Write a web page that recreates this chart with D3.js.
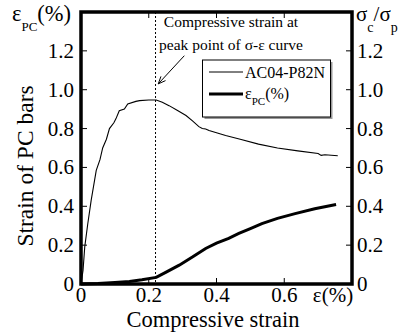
<!DOCTYPE html>
<html><head><meta charset="utf-8">
<script src="https://cdn.jsdelivr.net/npm/d3@7"></script>
<style>
body{margin:0;background:#fff;}
svg{display:block;font-family:"Liberation Serif","Times New Roman",serif;}
</style></head>
<body><svg id="c" width="407" height="332"></svg>
<script>
// ---- data ----
const xTicks = [0, 0.2, 0.4, 0.6];
const xTickLabels = ["0", "0.2", "0.4", "0.6"];
const yTicks = [0, 0.2, 0.4, 0.6, 0.8, 1.0, 1.2];
const yTickLabels = ["0", "0.2", "0.4", "0.6", "0.8", "1.0", "1.2"];
const peakStrain = 0.22;
// sigma_c / sigma_p curve (AC04-P82N)
const stressX = [0, 0.006, 0.011, 0.02, 0.03, 0.045, 0.056, 0.064, 0.075, 0.084, 0.097, 0.103, 0.113, 0.128, 0.138, 0.162, 0.173, 0.2, 0.222, 0.24, 0.26, 0.285, 0.31, 0.33, 0.348, 0.358, 0.368, 0.378, 0.40, 0.427, 0.47, 0.524, 0.58, 0.64, 0.70, 0.709, 0.72, 0.758];
const stressY = [0, 0.07, 0.19, 0.31, 0.43, 0.585, 0.64, 0.70, 0.745, 0.80, 0.83, 0.85, 0.892, 0.90, 0.927, 0.94, 0.944, 0.947, 0.947, 0.935, 0.918, 0.893, 0.867, 0.838, 0.81, 0.80, 0.798, 0.79, 0.778, 0.764, 0.745, 0.72, 0.70, 0.685, 0.672, 0.662, 0.665, 0.66];
// PC bar strain curve
const pcX = [0, 0.05, 0.1, 0.143, 0.18, 0.222, 0.25, 0.29, 0.33, 0.368, 0.40, 0.436, 0.466, 0.50, 0.534, 0.58, 0.632, 0.69, 0.753];
const pcY = [0, 0.003, 0.008, 0.013, 0.022, 0.034, 0.06, 0.097, 0.14, 0.183, 0.21, 0.235, 0.26, 0.285, 0.311, 0.338, 0.362, 0.387, 0.409];

const svg = d3.select("#c");
const L = 81, R = 352, T = 12, B = 284;
const x = d3.scaleLinear().domain([0, 0.8]).range([L, R]);
const y = d3.scaleLinear().domain([0, 1.4]).range([B, T]);
const FONT = "'Liberation Serif','Times New Roman',serif";

// ticks (inward)
const ax = svg.append("g").attr("stroke", "#000").attr("stroke-width", 1);
xTicks.slice(1).forEach(v => {
  ax.append("line").attr("x1", x(v)).attr("x2", x(v)).attr("y1", B).attr("y2", B - 6);
  ax.append("line").attr("x1", x(v)).attr("x2", x(v)).attr("y1", T).attr("y2", T + 6);
});
yTicks.slice(1).forEach(v => {
  ax.append("line").attr("x1", L).attr("x2", L + 6).attr("y1", y(v)).attr("y2", y(v));
  ax.append("line").attr("x1", R).attr("x2", R - 6).attr("y1", y(v)).attr("y2", y(v));
});

// dotted vertical line at peak strain
svg.append("line").attr("x1", x(peakStrain)).attr("x2", x(peakStrain))
  .attr("y1", T).attr("y2", B).attr("stroke", "#000").attr("stroke-width", 1)
  .attr("stroke-dasharray", "2,2");

// curves
const line = d3.line().x(d => x(d[0])).y(d => y(d[1]));
svg.append("path").datum(stressX.map((v, i) => [v, stressY[i]]))
  .attr("d", line).attr("fill", "none").attr("stroke", "#000").attr("stroke-width", 1.1);
svg.append("path").datum(pcX.map((v, i) => [v, pcY[i]]))
  .attr("d", line).attr("fill", "none").attr("stroke", "#000").attr("stroke-width", 3);

// frame
svg.append("rect").attr("x", L).attr("y", T).attr("width", R - L).attr("height", B - T)
  .attr("fill", "none").attr("stroke", "#000").attr("stroke-width", 3.5);

// tick labels
const tl = svg.append("g").attr("font-family", FONT).attr("font-size", 21).attr("fill", "#000");
yTicks.forEach((v, i) => {
  tl.append("text").attr("x", 74).attr("y", y(v) + 7).attr("text-anchor", "end").text(yTickLabels[i]);
  tl.append("text").attr("x", 357).attr("y", y(v) + 7).attr("text-anchor", "start").text(yTickLabels[i]);
});
xTicks.forEach((v, i) => {
  tl.append("text").attr("x", x(v)).attr("y", 302).attr("text-anchor", "middle").text(xTickLabels[i]);
});
tl.append("text").attr("x", 333).attr("y", 302).attr("text-anchor", "middle").text("ε(%)");

// axis titles
svg.append("text").attr("font-family", FONT).attr("font-size", 22.5)
  .attr("x", 213).attr("y", 327).attr("text-anchor", "middle").text("Compressive strain");
svg.append("text").attr("font-family", FONT).attr("font-size", 23.5)
  .attr("transform", "translate(33,166) rotate(-90)").attr("text-anchor", "middle").text("Strain of PC bars");

// left unit label εPC(%)
const lu = svg.append("text").attr("font-family", FONT).attr("font-size", 22.5).attr("x", 12).attr("y", 21);
lu.append("tspan").text("ε");
lu.append("tspan").attr("font-size", 13).attr("dy", 10).text("PC");
lu.append("tspan").attr("dy", -10).text("(%)");

// right label σc/σp
const ru = svg.append("text").attr("font-family", FONT).attr("font-size", 21).attr("x", 356).attr("y", 21);
ru.append("tspan").text("σ");
ru.append("tspan").attr("font-size", 14).attr("dy", 11).text("c");
ru.append("tspan").attr("dy", -11).text("/σ");
ru.append("tspan").attr("font-size", 14).attr("dy", 11).text("p");

// annotation
const an = svg.append("g").attr("font-family", FONT).attr("font-size", 15.5).attr("text-anchor", "middle");
an.append("text").attr("x", 231).attr("y", 27).text("Compressive strain at");
an.append("text").attr("x", 231).attr("y", 50).text("peak point of  σ-ε curve");
// arrow
const ax1 = x(0.305), ay1 = y(1.175), ax2 = x(0.228), ay2 = y(1.03);
svg.append("line").attr("x1", ax1).attr("y1", ay1).attr("x2", ax2).attr("y2", ay2)
  .attr("stroke", "#000").attr("stroke-width", 1);
const ang = Math.atan2(ay2 - ay1, ax2 - ax1);
const hl = 8, ha = 0.4;
svg.append("path").attr("d",
  `M${ax2 - hl * Math.cos(ang - ha)},${ay2 - hl * Math.sin(ang - ha)}L${ax2},${ay2}L${ax2 - hl * Math.cos(ang + ha)},${ay2 - hl * Math.sin(ang + ha)}`)
  .attr("fill", "none").attr("stroke", "#000").attr("stroke-width", 1);

// legend
const lg = svg.append("g");
lg.append("rect").attr("x", 204.5).attr("y", 62).attr("width", 128).attr("height", 57).attr("fill", "#999");
lg.append("rect").attr("x", 202.5).attr("y", 60).attr("width", 128).attr("height", 57)
  .attr("fill", "#fff").attr("stroke", "#000").attr("stroke-width", 1);
lg.append("line").attr("x1", 209).attr("x2", 243).attr("y1", 72).attr("y2", 72).attr("stroke", "#000").attr("stroke-width", 1);
lg.append("line").attr("x1", 209).attr("x2", 243).attr("y1", 94).attr("y2", 94).attr("stroke", "#000").attr("stroke-width", 3);
lg.append("text").attr("font-family", FONT).attr("font-size", 16).attr("x", 245).attr("y", 78).text("AC04-P82N");
const le = lg.append("text").attr("font-family", FONT).attr("font-size", 16).attr("x", 245).attr("y", 99);
le.append("tspan").text("ε");
le.append("tspan").attr("font-size", 11).attr("dy", 6).text("PC");
le.append("tspan").attr("dy", -6).text("(%)");
</script></body></html>
